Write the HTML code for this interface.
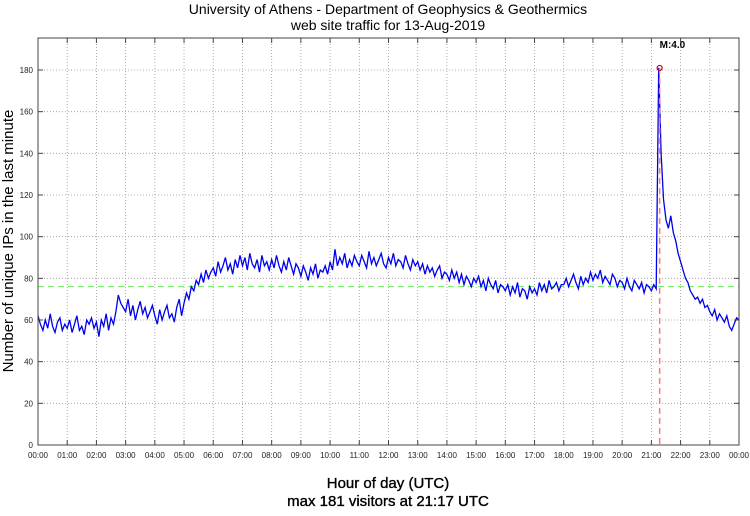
<!DOCTYPE html>
<html><head><meta charset="utf-8"><style>
body{margin:0;background:#fff;width:750px;height:511px;overflow:hidden}
text{font-family:"Liberation Sans",sans-serif}
</style></head><body>
<svg id="chart" width="750" height="511" xmlns="http://www.w3.org/2000/svg">
<text x="388" y="14" font-size="14" text-anchor="middle">University of Athens - Department of Geophysics &amp; Geothermics</text>
<text x="388" y="30" font-size="14" text-anchor="middle">web site traffic for 13-Aug-2019</text>
<text x="388" y="488" font-size="15" text-anchor="middle" stroke="#000" stroke-width="0.35">Hour of day (UTC)</text>
<text x="388" y="506" font-size="15" text-anchor="middle" stroke="#000" stroke-width="0.35">max 181 visitors at 21:17 UTC</text>
<text transform="translate(13,241) rotate(-90)" font-size="15" text-anchor="middle">Number of unique IPs in the last minute</text>
<g id="grid"></g><g id="series"></g><g id="axes"></g>
</svg>
<script>
const yTicks=[0,20,40,60,80,100,120,140,160,180];
const xTickLabels=["00:00","01:00","02:00","03:00","04:00","05:00","06:00","07:00","08:00","09:00","10:00","11:00","12:00","13:00","14:00","15:00","16:00","17:00","18:00","19:00","20:00","21:00","22:00","23:00","00:00"];
const visitors=[
62,58,55,60,56,63,57,54,59,61,55,58,
56,60,54,58,62,55,57,53,60,58,61,56,
59,52,60,57,63,55,61,58,64,72,68,66,
64,70,62,67,60,65,69,63,66,61,64,67,
62,58,65,60,64,67,61,63,59,66,70,62,
68,73,70,76,74,79,77,82,78,84,80,83,
85,81,88,83,86,90,84,87,82,89,85,91,
86,90,84,92,87,85,89,83,91,86,88,84,
89,85,91,86,83,88,84,90,86,82,87,85,
81,86,83,79,85,82,87,80,84,83,86,82,
88,84,94,86,90,87,92,85,89,86,91,88,
86,91,88,85,93,87,90,86,89,92,87,85,
90,87,92,86,89,88,85,91,87,84,89,86,
88,84,87,82,86,83,85,81,84,86,80,83,
82,79,84,80,83,78,82,77,81,79,76,80,
78,81,76,79,74,80,77,75,79,73,77,76,
74,77,72,76,73,78,71,75,74,70,76,73,
75,72,78,74,77,73,79,75,76,78,74,77,
77,80,76,79,82,78,75,81,77,80,78,83,
79,82,80,84,78,81,79,77,82,80,76,79,
78,75,80,76,74,79,77,75,78,73,77,76,
74,77,75,181,140,118,108,104,110,102,98,92,
88,84,80,78,74,72,70,71,68,70,66,67,
64,62,65,60,63,61,59,62,57,55,58,61,60];
const stepHours=[5/60];
const meanLevel=[76];
const maxValue=[181];
const maxHour=[21+17/60];
const maxLabel=["M:4.0"];

const L=38,R=739,T=38,B=445;
const X=h=>L+h/24*(R-L);
const Y=v=>B-v*(B-70)/180;
const NS="http://www.w3.org/2000/svg";
function mk(tag,attrs,parent){const e=document.createElementNS(NS,tag);for(const k in attrs)e.setAttribute(k,attrs[k]);parent.appendChild(e);return e;}
const grid=document.getElementById('grid'),ser=document.getElementById('series'),ax=document.getElementById('axes');
yTicks.forEach(v=>{
 if(v>0){const g=mk('line',{x1:L,x2:R,y1:Y(v),y2:Y(v),stroke:'#999','stroke-width':0.8,'stroke-dasharray':'1,2'},grid);
 
 }
 const t=mk('line',{x1:L,x2:L+5,y1:Y(v),y2:Y(v),stroke:'#444'},ax);
 
 
 const t2=mk('line',{x1:R-5,x2:R,y1:Y(v),y2:Y(v),stroke:'#444'},ax);
 
 
 const lb=mk('text',{x:L-5,y:Y(v)+3,'font-size':8,'text-anchor':'end',fill:'#222'},ax);lb.textContent=v;
 
 
});
xTickLabels.forEach((s,i)=>{
 const x=X(i);
 if(i>0&&i<24){const g=mk('line',{x1:x,x2:x,y1:T,y2:B,stroke:'#999','stroke-width':0.8,'stroke-dasharray':'1,2'},grid);
 
 }
 const t=mk('line',{x1:x,x2:x,y1:B-5,y2:B,stroke:'#444'},ax);
 
 
 const t2=mk('line',{x1:x,x2:x,y1:T,y2:T+5,stroke:'#444'},ax);
 
 
 const lb=mk('text',{x:x,y:B+13,'font-size':8,'text-anchor':'middle',fill:'#222'},ax);lb.textContent=s;
 
 
});
const frame=mk('rect',{x:L,y:T,width:R-L,height:B-T,fill:'none',stroke:'#444'},ax);


const mean=mk('line',{x1:L,x2:R,y1:Y(meanLevel[0]),y2:Y(meanLevel[0]),stroke:'#66ee55','stroke-width':1,'stroke-dasharray':'6,4'},ser);


const pts=visitors.map((v,i)=>X(i*stepHours[0]).toFixed(1)+','+Y(v).toFixed(1)).join(' ');
const pl=mk('polyline',{points:pts,fill:'none',stroke:'#0000ee','stroke-width':1.3},ser);


const mx=X(maxHour[0]),my=Y(maxValue[0]);
const ml=mk('line',{x1:mx,x2:mx,y1:my,y2:B,stroke:'#f77','stroke-width':1.5,'stroke-dasharray':'6,4'},ser);


const mc=mk('circle',{cx:mx,cy:my,r:2.5,fill:'none',stroke:'#c00','stroke-width':1.2},ser);


const mt=mk('text',{x:mx,y:my-20,'font-size':10,'font-weight':'bold'},ser);mt.textContent=maxLabel[0];


</script>
</body></html>
